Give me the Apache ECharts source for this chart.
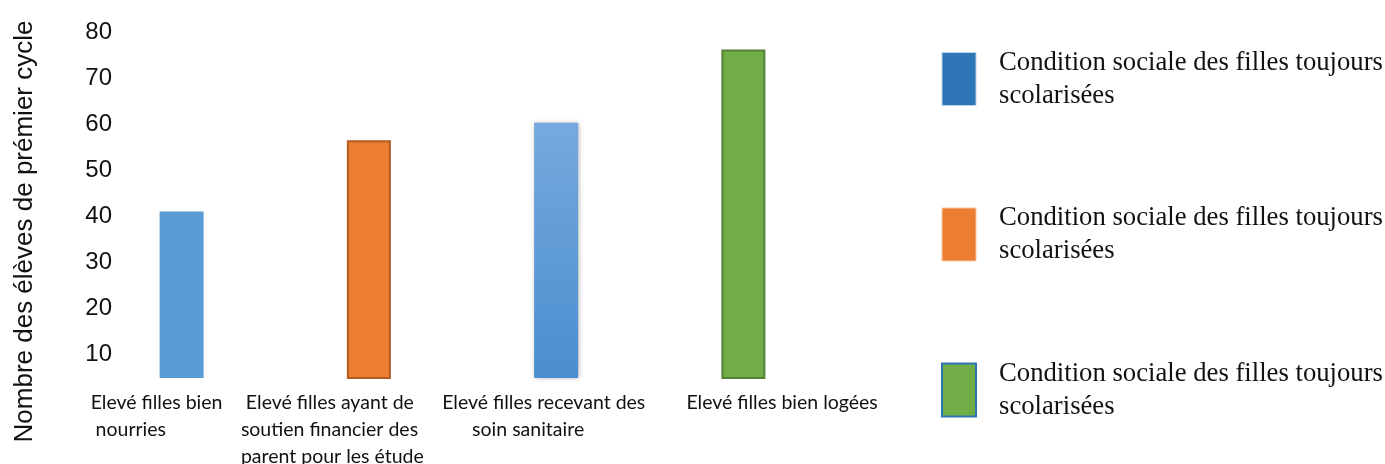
<!DOCTYPE html>
<html>
<head>
<meta charset="utf-8">
<script src="https://cdn.jsdelivr.net/npm/echarts@6/dist/echarts.min.js"></script>
<style>html,body{margin:0;padding:0;background:#fff;}#c{width:1385px;height:464px;}</style>
</head>
<body>
<div id="c"></div>
<script>
// ---- data ----
var categories = [
  "Elevé filles bien\n nourries",
  " Elevé filles ayant de\nsoutien financier des\nparent pour les étude",
  "Elevé filles recevant des\n      soin sanitaire",
  "Elevé filles bien logées"
];
var values = [41, 56.5, 60.3, 76.2];
var seriesNames = ["Série 1", "Série 2", "Série 3"];
var legendLabel = "Condition sociale des filles toujours\nscolarisées";
var yTicks = [10, 20, 30, 40, 50, 60, 70, 80];
var yTitle = "Nombre des élèves de prémier cycle";
// which series each category belongs to
var seriesOfCategory = [0, 1, 0, 2];

var barStyles = [
  {color: '#5b9bd5'},
  {color: '#ed7d31', borderColor: '#b35a22', borderWidth: 2},
  {color: new echarts.graphic.LinearGradient(0, 0, 0, 1, [{offset: 0, color: '#76a9dd'}, {offset: 1, color: '#4a8ecf'}]),
   shadowBlur: 5, shadowColor: 'rgba(0,0,0,0.35)', shadowOffsetX: 1},
  {color: '#70ad47', borderColor: '#548235', borderWidth: 2}
];
var labelShift = [-91, -128, -114, -57];

var series = seriesNames.map(function (nm, s) {
  return {
    name: nm,
    type: 'bar',
    stack: 'all',
    barWidth: 44,
    itemStyle: {color: ['#5b9bd5', '#ed7d31', '#70ad47'][s]},
    data: values.map(function (v, i) {
      return seriesOfCategory[i] === s ? {value: v, itemStyle: barStyles[i]} : null;
    })
  };
});

var rich = {};
labelShift.forEach(function (d, i) {
  rich['c' + i] = {padding: [0, 0, 0, d], fontFamily: 'Lato', fontSize: 19.5, lineHeight: 27, color: '#111'};
});

var chart = echarts.init(document.getElementById('c'));
chart.setOption({
  animation: false,
  backgroundColor: '#fff',
  grid: {left: 88, width: 749, top: 32, bottom: 86, containLabel: false, outerBoundsMode: 'none'},
  xAxis: {
    type: 'category',
    data: categories,
    axisLine: {show: false},
    axisTick: {show: false},
    axisLabel: {
      interval: 0,
      align: 'left',
      margin: 11,
      formatter: function (v, i) {
        return v.split('\n').map(function (l) { return '{c' + i + '|' + l + '}'; }).join('\n');
      },
      rich: rich
    }
  },
  yAxis: {
    type: 'value',
    min: 4.8,
    max: 80,
    name: yTitle,
    nameLocation: 'middle',
    nameRotate: 90,
    nameGap: 50,
    nameTextStyle: {fontFamily: 'Liberation Sans', fontSize: 26, color: '#111', padding: [0, 53, 0, 0]},
    axisLine: {show: false},
    axisTick: {show: false},
    splitLine: {show: false},
    axisLabel: {
      customValues: yTicks,
      margin: -24,
      fontFamily: 'Liberation Sans',
      fontSize: 24,
      color: '#111'
    }
  },
  legend: {
    orient: 'vertical',
    left: 936,
    top: 37,
    itemWidth: 34,
    itemHeight: 53,
    itemGap: 81.5,
    icon: 'rect',
    formatter: function () { return legendLabel; },
    textStyle: {fontFamily: 'Liberation Serif', fontSize: 26.7, lineHeight: 33, color: '#111', padding: [0, 0, 8, 18]},
    data: [
      {name: seriesNames[0], itemStyle: {color: '#2e75b6', borderColor: '#bcd3ea', borderWidth: 1}},
      {name: seriesNames[1], itemStyle: {color: '#ed7d31', borderColor: '#f8c9a8', borderWidth: 1}},
      {name: seriesNames[2], itemStyle: {color: '#70ad47', borderColor: '#2e75b6', borderWidth: 2}}
    ]
  },
  series: series
});
</script>
</body>
</html>
